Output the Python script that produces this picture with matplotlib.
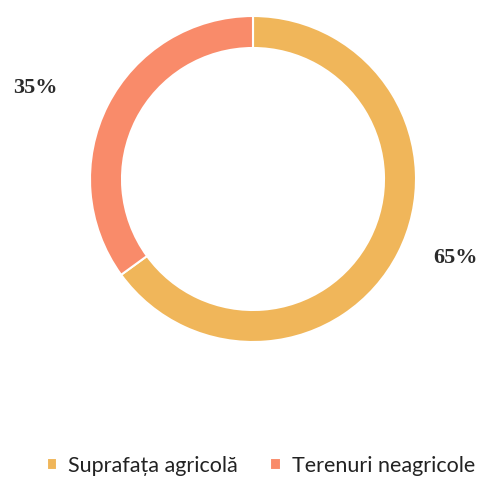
import matplotlib
matplotlib.use("Agg")
import matplotlib.pyplot as plt

labels = ["Suprafața agricolă", "Terenuri neagricole"]
values = [65, 35]
colors = ["#F0B65A", "#F98B6A"]
pct_labels = ["65%", "35%"]

W, H = 483, 478
fig = plt.figure(figsize=(W / 100, H / 100), dpi=100)
ax = fig.add_axes([0, 0, 1, 1])

wedges, _ = ax.pie(values, colors=colors, startangle=90, counterclock=False,
                   center=(253, H - 179), radius=163, frame=True,
                   wedgeprops=dict(width=32, edgecolor="white", linewidth=1.5))
ax.set_xlim(0, W)
ax.set_ylim(0, H)
ax.set_aspect("equal")
ax.axis("off")

ax.text(35, H - 88, pct_labels[1], ha="center", va="center", fontsize=16,
        fontweight="bold", family="Liberation Serif", color="#2b2b2b")
ax.text(455, H - 258, pct_labels[0], ha="center", va="center", fontsize=16,
        fontweight="bold", family="Liberation Serif", color="#2b2b2b")

leg = fig.legend(wedges, labels, loc="center", bbox_to_anchor=(0.54, 1 - 466 / H),
                 ncol=2, frameon=False, handlelength=0.5,
                 handleheight=0.5, handletextpad=0.5, columnspacing=1.5,
                 borderpad=0.2, borderaxespad=0.0,
                 prop=dict(family="Lato", size=15.5))
for t in leg.get_texts():
    t.set_color("#222222")

fig.savefig("out.png", dpi=100)
